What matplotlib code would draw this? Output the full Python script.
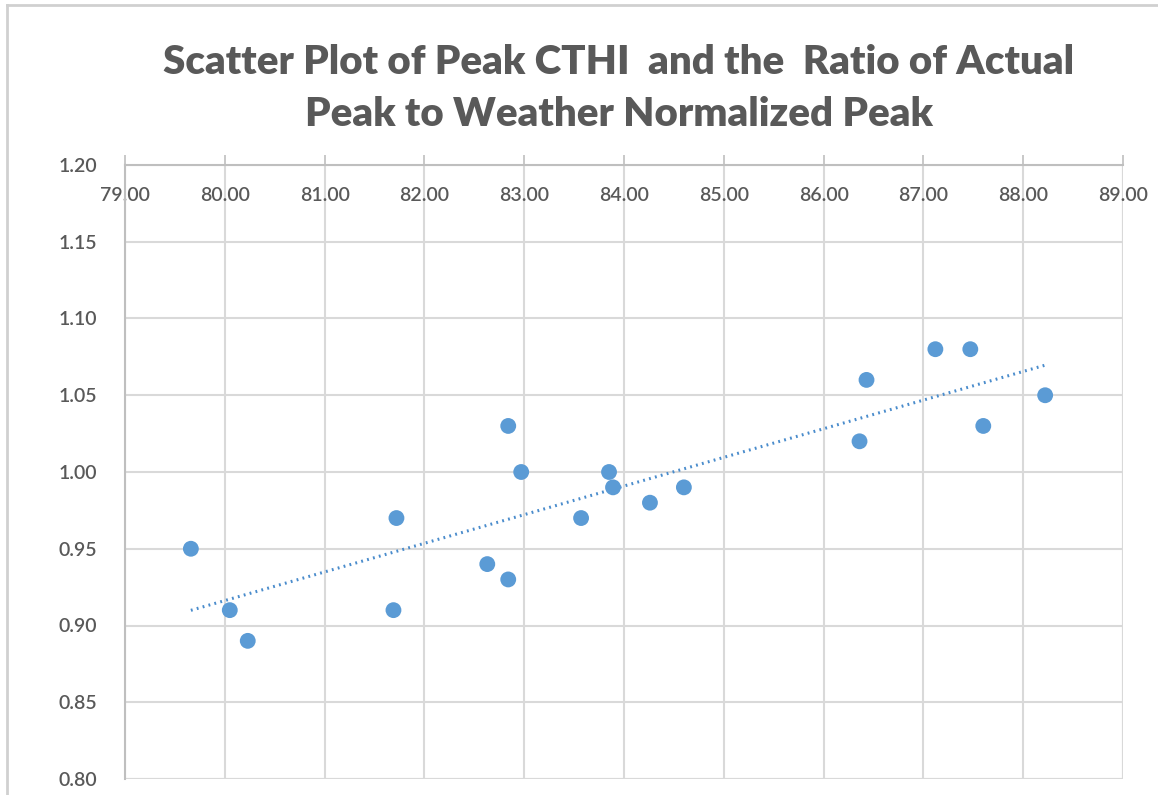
import numpy as np
import matplotlib
matplotlib.use("Agg")
import matplotlib.pyplot as plt
from matplotlib.lines import Line2D

# Data
peak_cthi = [79.66, 80.05, 80.23, 81.69, 81.72, 82.63, 82.84, 82.84, 82.97, 83.57,
             83.85, 83.89, 84.26, 84.60, 86.36, 86.43, 87.12, 87.47, 87.60, 88.22]
ratio = [0.95, 0.91, 0.89, 0.91, 0.97, 0.94, 0.93, 1.03, 1.00, 0.97,
         1.00, 0.99, 0.98, 0.99, 1.02, 1.06, 1.08, 1.08, 1.03, 1.05]
x_ticks = [79, 80, 81, 82, 83, 84, 85, 86, 87, 88, 89]
y_ticks = [0.80, 0.85, 0.90, 0.95, 1.00, 1.05, 1.10, 1.15, 1.20]
title = "Scatter Plot of Peak CTHI  and the  Ratio of Actual\nPeak to Weather Normalized Peak"

W, H = 1158, 795
fig = plt.figure(figsize=(W / 100, H / 100), dpi=100)
fig.patch.set_facecolor("white")

left, right, top, bottom = 125, 1123, 165, 779
ax = fig.add_axes([left / W, 1 - bottom / H, (right - left) / W, (bottom - top) / H])

ax.set_xlim(79, 89)
ax.set_ylim(0.80, 1.20)
ax.set_xticks(x_ticks)
ax.set_yticks(y_ticks)
ax.set_xticklabels([f"{v:.2f}" for v in x_ticks])
ax.set_yticklabels([f"{v:.2f}" for v in y_ticks])

grid_c = "#d9d9d9"
ax.grid(True, color=grid_c, linewidth=1.5)
ax.set_axisbelow(True)

for s in ["top", "right"]:
    ax.spines[s].set_visible(False)
ax.spines["bottom"].set_position(("data", 1.20))
ax.spines["bottom"].set_color("#bfbfbf")
ax.spines["bottom"].set_linewidth(1.5)
ax.spines["left"].set_color("#bfbfbf")
ax.spines["left"].set_linewidth(1.5)

ax.tick_params(axis="x", direction="in", length=7, width=1.2, color="#bfbfbf",
               labelcolor="#595959", labelsize=14, pad=16)
ax.tick_params(axis="y", length=0, labelcolor="#595959", labelsize=14, pad=20)
for lab in ax.get_xticklabels() + ax.get_yticklabels():
    lab.set_family("Lato")
    lab.set_fontweight("semibold")

ax.axhline(0.80, color=grid_c, linewidth=1.5, zorder=0.5)
ax.axvline(89, color=grid_c, linewidth=1.5, zorder=0.5)

# trendline (linear fit)
coef = np.polyfit(peak_cthi, ratio, 1)
xs = np.array([min(peak_cthi), max(peak_cthi)])
ax.plot(xs, np.polyval(coef, xs), linestyle=(0, (0.6, 1.4)), color="#4a8ccc",
        linewidth=2.2, zorder=2)

ax.scatter(peak_cthi, ratio, s=130, color="#5b9bd5", edgecolors="none", zorder=3,
           clip_on=False)

fig.text(0.5345, 1 - 88 / H, title, ha="center", va="center", fontsize=29,
         fontweight="heavy", color="#595959", family="Lato", linespacing=1.5)

# outer border (top and left)
fig.add_artist(Line2D([7.5 / W, 7.5 / W], [0, 1 - 5 / H], transform=fig.transFigure,
                      color="#d0d0d0", linewidth=2))
fig.add_artist(Line2D([7.5 / W, 1], [1 - 5 / H, 1 - 5 / H], transform=fig.transFigure,
                      color="#d0d0d0", linewidth=2))

fig.savefig("out.png", dpi=100, facecolor="white")
